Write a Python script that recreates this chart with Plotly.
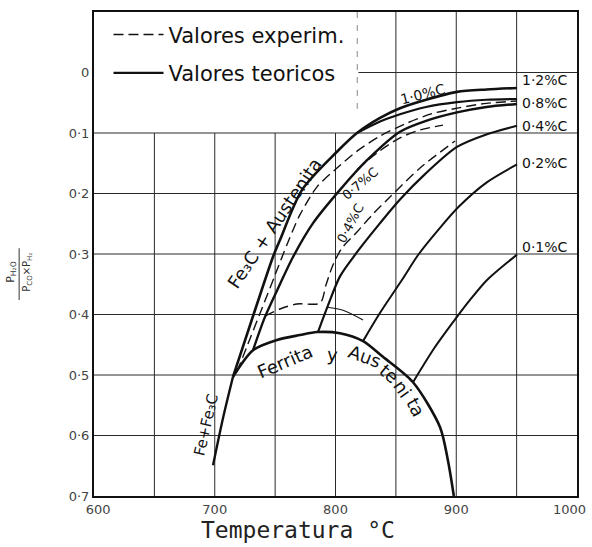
import plotly.graph_objects as go

# ---------------- data ----------------
x_tick_vals = [600, 700, 800, 900]
x_tick_text = ["\u00a0\u00a0600", "700", "800", "900"]
x_last_tick = 1000
x_last_text = "1000"
y_tick_vals = [0, 0.1, 0.2, 0.3, 0.4, 0.5, 0.6, 0.7]
y_tick_text = ["0", "0·1", "0·2", "0·3", "0·4", "0·5", "0·6", "0·7"]

# theoretical curves (solid)
fe_fe3c_T = [698.6, 707.0, 715.1]
fe_fe3c_Y = [0.649, 0.570, 0.503]

dome_T = [715.1, 731.7, 751.6, 770.6, 784.7, 803.7, 822.8, 839.3, 864.2, 886.5, 893.0, 898.0]
dome_Y = [0.503, 0.459, 0.442, 0.434, 0.429, 0.431, 0.444, 0.470, 0.512, 0.586, 0.640, 0.700]

acm_T = [715.1, 733.3, 748.2, 754.0, 772.3, 801.2, 817.8, 836.9, 853.4, 875.0, 900.6, 925.0, 950.3]
acm_Y = [0.503, 0.393, 0.305, 0.277, 0.194, 0.131, 0.100, 0.075, 0.059, 0.045, 0.032, 0.028, 0.0256]

c10_T = [817.8, 836.9, 853.4, 875.0, 900.6, 925.0, 950.3]
c10_Y = [0.100, 0.081, 0.069, 0.057, 0.049, 0.045, 0.0438]

c08_T = [731.7, 741.6, 754.0, 764.8, 781.4, 803.7, 826.1, 853.4, 875.0, 900.6, 925.0, 950.3]
c08_Y = [0.459, 0.404, 0.350, 0.305, 0.249, 0.194, 0.145, 0.098, 0.080, 0.066, 0.057, 0.052]

c04_T = [785.5, 793.8, 803.7, 817.8, 836.9, 853.4, 874.1, 900.6, 925.5, 950.3]
c04_Y = [0.429, 0.385, 0.337, 0.297, 0.249, 0.210, 0.168, 0.123, 0.102, 0.088]

c02_T = [822.8, 836.0, 855.0, 869.0, 886.0, 902.0, 925.0, 950.3]
c02_Y = [0.444, 0.400, 0.343, 0.300, 0.258, 0.222, 0.182, 0.152]

c01_T = [864.2, 882.0, 900.6, 911.4, 925.5, 950.3]
c01_Y = [0.512, 0.455, 0.404, 0.376, 0.343, 0.301]

arc_T = [793.0, 806.2, 822.8]
arc_Y = [0.388, 0.393, 0.409]

# experimental curves (dashed)
e08_T = [718.4, 729.2, 739.1, 749.9, 760.7, 770.6, 784.7, 801.2, 817.8, 836.9, 857.6, 880.0, 903.1, 925.0, 950.3]
e08_Y = [0.495, 0.440, 0.390, 0.335, 0.280, 0.235, 0.189, 0.158, 0.130, 0.105, 0.085, 0.068, 0.058, 0.051, 0.047]

e07_T = [818.0, 835.0, 853.4, 870.0, 889.0]
e07_Y = [0.160, 0.132, 0.108, 0.095, 0.087]

e04_T = [741.6, 754.0, 768.1, 787.2, 792.1, 797.9, 805.4, 817.8, 831.1, 845.1, 870.0, 899.0]
e04_Y = [0.4025, 0.3909, 0.3826, 0.3810, 0.3512, 0.3182, 0.2901, 0.2636, 0.2339, 0.2058, 0.1579, 0.1132]

# grid
h_grid_full = [0.1, 0.2, 0.3, 0.4, 0.5, 0.6]
v_grid_low = [650, 700, 750, 800]
v_grid_full = [850, 900, 950]

# ---------------- figure ----------------
INK = "#111111"
HAND = "DejaVu Sans"

fig = go.Figure()

solid = [
    (fe_fe3c_T, fe_fe3c_Y, 2.4), (dome_T, dome_Y, 2.6), (acm_T, acm_Y, 2.6),
    (c10_T, c10_Y, 2.2), (c08_T, c08_Y, 2.4), (c04_T, c04_Y, 2.2),
    (c02_T, c02_Y, 2.0), (c01_T, c01_Y, 2.0), (arc_T, arc_Y, 1.1),
]
dashed = [(e08_T, e08_Y), (e07_T, e07_Y), (e04_T, e04_Y)]

for i, (t, y) in enumerate(dashed):
    fig.add_trace(go.Scatter(
        x=t, y=y, mode="lines", line=dict(color=INK, width=1.4, dash="10px,5px", shape="spline", smoothing=0.8),
        name="Valores experim.", legendgroup="exp", showlegend=(i == 0), legendrank=1, hoverinfo="skip"))

for i, (t, y, w) in enumerate(solid):
    fig.add_trace(go.Scatter(
        x=t, y=y, mode="lines", line=dict(color=INK, width=w, shape="spline", smoothing=0.8),
        name="Valores teoricos", legendgroup="teo", showlegend=(i == 0), legendrank=2, hoverinfo="skip"))

shapes = []
for yv in h_grid_full:
    shapes.append(dict(type="line", xref="x", yref="y", x0=600, x1=1000, y0=yv, y1=yv,
                       line=dict(color="#2a2a2a", width=1), layer="below"))
shapes.append(dict(type="line", xref="x", yref="y", x0=819, x1=1000, y0=0, y1=0,
                   line=dict(color="#2a2a2a", width=1), layer="below"))
for xv in v_grid_low:
    shapes.append(dict(type="line", xref="x", yref="y", x0=xv, x1=xv, y0=0.1, y1=0.7,
                       line=dict(color="#2a2a2a", width=1), layer="below"))
for xv in v_grid_full:
    shapes.append(dict(type="line", xref="x", yref="y", x0=xv, x1=xv, y0=-0.1, y1=0.7,
                       line=dict(color="#2a2a2a", width=1), layer="below"))
shapes.append(dict(type="line", xref="x", yref="y", x0=818, x1=818, y0=-0.1, y1=0.06,
                   line=dict(color="#888888", width=1, dash="6px,7px"), layer="below"))
# fraction bar of y-axis title
shapes.append(dict(type="line", xref="paper", yref="paper", x0=-0.155, x1=-0.155, y0=0.405, y1=0.512,
                   line=dict(color="#333333", width=1)))

ann = []
def label(text, x, y, angle=0, size=14, anchor="center"):
    ann.append(dict(text=text, x=x, y=y, xref="x", yref="y", showarrow=False, textangle=angle,
                    xanchor=anchor, yanchor="middle", font=dict(family=HAND, size=size, color=INK)))

# right end labels
label("1·2%C", 952.8, 0.0124, size=14, anchor="left")
label("0·8%C", 952.8, 0.050, size=14, anchor="left")
label("0·4%C", 952.8, 0.088, size=14, anchor="left")
label("0·2%C", 952.8, 0.150, size=14, anchor="left")
label("0·1%C", 952.8, 0.288, size=14, anchor="left")
# in-plot labels
label("1·0%C", 872.5, 0.0355, angle=-14, size=14)
label("0·7%C", 820.3, 0.183, angle=-40, size=13)
label("0·4%C", 812.0, 0.249, angle=-62, size=13)
label("Fe₃C + Austenita", 749.5, 0.2504, angle=-56, size=18)
label("Fe+Fe₃C", 693.0, 0.583, angle=-77, size=15)
label("Ferrita", 758.2, 0.478, angle=-23, size=18)
label("y", 797.1, 0.466, angle=5, size=18)
label("Aus", 824.4, 0.470, angle=20, size=18)
label("te", 844.3, 0.498, angle=40, size=18)
label("ni", 855.1, 0.523, angle=55, size=18)
label("ta", 866.7, 0.553, angle=62, size=18)

# last x tick label, pulled inside the page like in the reference
ann.append(dict(text=x_last_text, x=x_last_tick, y=0.7, xref="x", yref="y", showarrow=False,
                xanchor="right", yanchor="top", xshift=11, yshift=-4,
                font=dict(family=HAND, size=13, color="#444444")))

# axis titles
ann.append(dict(text="Temperatura °C", x=0.422, y=-0.070, xref="paper", yref="paper", showarrow=False,
                xanchor="center", yanchor="middle", font=dict(family="DejaVu Sans Mono", size=23, color="#222222")))
ann.append(dict(text="P<sub>H₂O</sub>", x=-0.172, y=0.463, xref="paper", yref="paper", showarrow=False,
                textangle=-90, xanchor="center", yanchor="middle", font=dict(family=HAND, size=11, color="#333333")))
ann.append(dict(text="P<sub>CO</sub>×P<sub>H₂</sub>", x=-0.137, y=0.463, xref="paper", yref="paper", showarrow=False,
                textangle=-90, xanchor="center", yanchor="middle", font=dict(family=HAND, size=10, color="#333333")))

fig.update_layout(
    width=592, height=547,
    margin=dict(l=94, r=15, t=12, b=51),
    paper_bgcolor="white", plot_bgcolor="white",
    shapes=shapes, annotations=ann,
    showlegend=True,
    legend=dict(x=0.030, y=0.995, xanchor="left", yanchor="top", bgcolor="rgba(0,0,0,0)",
                font=dict(family=HAND, size=21, color=INK), itemwidth=50, tracegroupgap=8,
                traceorder="grouped"),
    xaxis=dict(range=[600, 1000], tickvals=x_tick_vals, ticktext=x_tick_text, showgrid=False, zeroline=False,
               showline=True, mirror=True, linecolor=INK, linewidth=2, automargin=False,
               tickfont=dict(family=HAND, size=13, color="#444444")),
    yaxis=dict(range=[0.7, -0.1], tickvals=y_tick_vals, ticktext=y_tick_text, showgrid=False, zeroline=False,
               showline=True, mirror=True, linecolor=INK, linewidth=2, automargin=False,
               tickfont=dict(family=HAND, size=13, color="#444444")),
)

fig.write_html("out.html")
